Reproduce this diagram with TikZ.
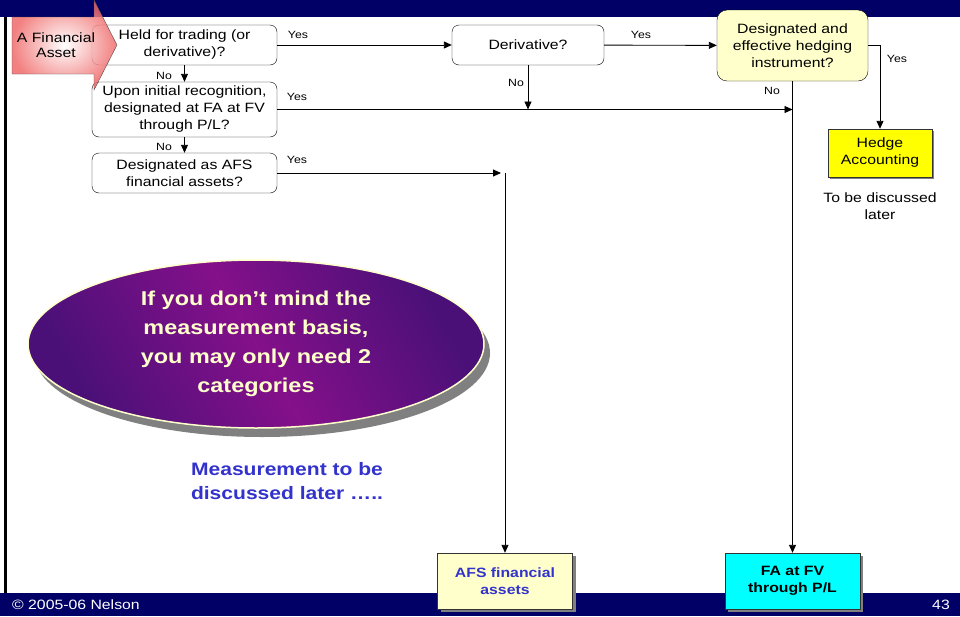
\documentclass[tikz,border=0pt]{standalone}
\usepackage{fontspec}
\setmainfont{Liberation Sans}[FakeStretch=1.17]
\usepackage{tikz}
\usetikzlibrary{arrows.meta, positioning, shapes.geometric, shadows}
\definecolor{slidenavy}{HTML}{000066}
\definecolor{paleyellow}{HTML}{FFFFCC}
\definecolor{hedgeyellow}{HTML}{FFFF00}
\definecolor{fvcyan}{HTML}{00FFFF}
\definecolor{notepurple}{HTML}{84108A}
\definecolor{noteindigo}{HTML}{4A1078}
\definecolor{noteblue}{HTML}{3333CC}
\definecolor{assetred}{HTML}{F06A6A}

\begin{document}
\begin{tikzpicture}[
        x=1pt, y=-1pt,
        >={Triangle[length=8pt, width=7pt]},
        query/.style={draw=black, fill=white, rounded corners=7pt, font=\fontsize{13.5}{17}\selectfont, align=center, inner sep=0pt, minimum width=185pt, minimum height=40pt},
        answer/.style={font=\fontsize{10.5}{12}\selectfont, inner sep=0pt},
        result/.style={draw=black!80, font=\bfseries\fontsize{13.5}{17}\selectfont, align=center, inner sep=0pt, minimum width=135pt, minimum height=56pt, drop shadow={shadow xshift=3pt, shadow yshift=-3pt, fill=black!50, opacity=1}},
        flow/.style={->, line width=0.9pt},
        footer/.style={text=white, font=\fontsize{13.5}{16}\selectfont, inner sep=0pt}
    ]
        \useasboundingbox (0,0) rectangle (960,616);
        % slide frame
        \fill[slidenavy] (0,0) rectangle (960,17);
        \fill[slidenavy] (0,593) rectangle (960,616);
        \fill[black] (4,17) rectangle (7,593);
        \node[footer, anchor=west] (copy) at (12,605) {© 2005-06 Nelson};
        \node[footer, anchor=east] (page) at (950,605) {43};

        % questions
        \node[query] (held) at (184.5,45) {Held for trading (or\\derivative)?};
        \node[query, minimum height=55pt] (upon) at (184.5,109.5) {Upon initial recognition,\\designated at FA at FV\\through P/L?};
        \node[query] (afsq) at (184.5,173) {Designated as AFS\\financial assets?};
        \node[query, minimum width=152pt] (deriv) at (528,45) {Derivative?};
        \node[query, fill=paleyellow, rounded corners=10pt, minimum width=151pt, minimum height=71pt] (hedging) at (792.5,45.5) {Designated and\\effective hedging\\instrument?};

        % outcomes
        \node[draw=black!80, fill=hedgeyellow, font=\fontsize{13.5}{17}\selectfont, align=center, inner sep=0pt, minimum width=104pt, minimum height=48pt, drop shadow={shadow xshift=1.5pt, shadow yshift=-1.5pt, fill=black!50, opacity=1}] (hedgeacc) at (880,153) {Hedge\\Accounting};
        \node[font=\fontsize{13.5}{17}\selectfont, align=center] (hedgenote) at (880,206.5) {To be discussed\\later};
        \node[result, fill=paleyellow, text=noteblue] (afs) at (505,581) {AFS financial\\assets};
        \node[result, fill=fvcyan] (fvpl) at (792.5,581) {FA at FV\\through P/L};

        % entry arrow
        \path[draw=black!70, shading=radial, inner color=white, outer color=assetred, fill opacity=0.85]
            (12,17) -- (94,17) -- (94,0) -- (117,45) -- (94,90) -- (94,74) -- (12,74) -- cycle;
        \node[font=\fontsize{13.5}{15.5}\selectfont, align=center, inner sep=0pt] (asset) at (56,45) {A Financial\\Asset};

        % connectors
        \coordinate (afsturn) at (afs.north |- afsq.east);
        \draw[flow] (held) -- (upon);
        \draw[flow] (upon) -- (afsq);
        \draw[flow] (held) -- (deriv);
        \draw[flow] (deriv) -- (hedging);
        \draw[flow] (hedging.east) -| (hedgeacc.north);
        \draw[flow] (hedging.south) -- (fvpl.north);
        \draw[flow] (upon.east) -- (upon.east -| fvpl.north);
        \draw[flow] (deriv.south) -- (deriv.south |- upon.east);
        \draw[flow, shorten >=4pt] (afsq.east) -- (afsturn);
        \draw[flow] (afsturn) -- (afs.north);

        % answers
        \node[answer] (yesheld) at (298,35) {Yes};
        \node[answer] (yesderiv) at (641,35) {Yes};
        \node[answer] (yeshedge) at (897,59) {Yes};
        \node[answer] (yesupon) at (297,97) {Yes};
        \node[answer] (yesafs) at (297,160) {Yes};
        \node[answer] (noheld) at (164,76) {No};
        \node[answer] (noupon) at (164,147) {No};
        \node[answer] (noderiv) at (516,83) {No};
        \node[answer] (nohedge) at (772,91) {No};

        % remarks
        \node[ellipse, minimum width=456pt, minimum height=168pt, inner sep=0pt, draw=paleyellow, line width=1.5pt,
              left color=noteindigo, right color=noteindigo, middle color=notepurple, shading angle=120,
              drop shadow={shadow xshift=6pt, shadow yshift=-9pt, fill=black!50, opacity=1},
              text=paleyellow, font=\bfseries\fontsize{20}{29}\selectfont, align=center] (remark) at (256,344)
              {If you don’t mind the\\measurement basis,\\you may only need 2\\categories};
        \node[text=noteblue, font=\bfseries\fontsize{18}{24}\selectfont, align=center] (later) at (287,481) {Measurement to be\\discussed later …..};
    \end{tikzpicture}
\end{document}
